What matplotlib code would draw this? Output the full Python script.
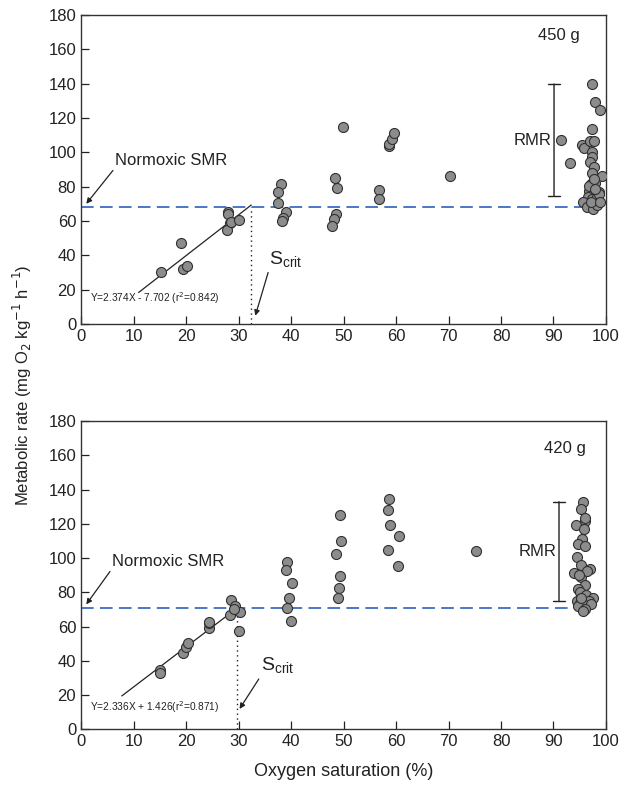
import numpy as np
import matplotlib
matplotlib.use('Agg')
import matplotlib.pyplot as plt

plt.rcParams['font.family'] = ['Liberation Sans', 'DejaVu Sans']

# 450 g fish - oxygen saturation (%) and metabolic rate
sat450 = [15.3, 19.0, 19.4, 20.1, 28.0, 28.0, 28.3, 27.8, 28.5, 30.0,
          38.0, 37.5, 37.6, 39.1, 38.4, 38.2,
          48.3, 48.7, 48.6, 48.2, 47.8, 49.9,
          56.8, 56.8, 58.6, 58.7, 59.2, 59.6, 70.3, 91.4, 93.1,
          97.3, 98.0, 98.9, 97.4, 95.5, 95.8, 96.9, 97.8, 97.3, 97.4,
          96.9, 97.7, 97.4, 99.2, 97.1, 98.0, 96.7, 98.7, 96.5, 97.4,
          98.3, 95.6, 96.3, 97.5, 98.3, 98.7, 96.7, 98.0, 97.2, 98.8, 97.7]
mr450 = [30.4, 47.1, 32.0, 33.9, 65.3, 64.0, 58.8, 54.7, 59.5, 60.7,
         81.8, 76.6, 70.2, 65.5, 61.7, 59.7,
         85.1, 79.3, 63.8, 60.9, 57.0, 115.0,
         78.1, 72.9, 103.7, 104.7, 108.0, 111.5, 86.1, 107.0, 93.5,
         139.8, 129.1, 124.7, 113.8, 104.3, 102.6, 106.3, 106.5, 100.4, 97.1,
         94.2, 91.5, 87.8, 86.1, 81.8, 82.4, 77.6, 76.6, 73.7, 72.7,
         73.7, 70.8, 68.4, 66.9, 69.4, 75.6, 80.5, 78.5, 70.8, 70.8, 84.3]

# 420 g fish
sat420 = [15.0, 15.0, 19.4, 20.0, 20.3, 24.3, 24.4, 24.4, 28.5, 29.4,
          28.4, 30.2, 29.2, 30.0,
          39.3, 39.1, 40.1, 39.7, 39.2, 40.0,
          49.4, 49.6, 48.5, 49.4, 49.2, 49.0,
          58.7, 58.4, 58.9, 60.5, 58.4, 60.3, 75.3,
          95.7, 95.3, 96.0, 94.3, 95.9, 95.5, 94.7, 96.0, 94.5, 95.2,
          97.0, 93.9, 95.3, 96.0, 94.7, 95.0, 96.1, 97.5, 94.5, 96.7,
          95.0, 95.7, 97.1, 94.7, 96.0, 95.3, 96.3, 96.0, 94.8, 95.7]
mr420 = [35.0, 33.0, 44.6, 48.3, 50.4, 59.1, 62.0, 63.0, 75.4, 72.1,
         66.9, 68.6, 70.1, 57.6,
         97.6, 93.1, 85.2, 76.7, 71.1, 63.4,
         125.2, 110.0, 102.2, 89.3, 82.3, 76.9,
         134.3, 127.9, 119.2, 112.9, 104.5, 95.3, 104.0,
         132.9, 128.5, 121.4, 119.4, 117.1, 111.3, 108.4, 106.9, 100.5, 96.2,
         93.9, 91.4, 88.9, 84.3, 81.7, 80.4, 78.5, 76.5, 75.0, 75.0,
         74.0, 73.0, 73.4, 72.1, 70.1, 76.9, 92.3, 123.3, 90.4, 69.2]

# regression (slope, intercept), normoxic SMR, Scrit, RMR range
slope450, icpt450 = 2.374, -7.702
smr450 = 68.3
scrit450 = 32.4
rmr450 = (74.3, 139.8)

slope420, icpt420 = 2.336, 1.426
smr420 = 71.1
scrit420 = 29.7
rmr420 = (75.0, 132.9)

fig = plt.figure(figsize=(6.3, 7.95), dpi=100)
ax1 = fig.add_axes([0.1286, 0.5925, 0.8333, 0.3887])
ax2 = fig.add_axes([0.1286, 0.0824, 0.8333, 0.388])

txtc = '#222222'

def panel(ax, sat, mr, slope, icpt, smr, scrit, rmr, rmr_x, line_x0, dash_end,
          label, label_xy, eq, eq_xy, smr_xy, smr_tip, s_xy, s_tip, rmr_txt_xy):
    ax.scatter(sat, mr, s=52, c='#8c8c8c', edgecolors='#303030', linewidths=0.8, zorder=3)
    xs = np.array([line_x0, scrit])
    ax.plot(xs, slope * xs + icpt, color='#222222', lw=0.9, zorder=2)
    ax.hlines(smr, 0, dash_end, colors='#3b6cc0', linestyles=(0, (7, 3.5)), lw=1.3, zorder=2)
    ax.vlines(scrit, 0, smr, colors='#222222', linestyles=(0, (1, 2.5)), lw=1.0)
    # RMR bar
    ax.annotate('', xy=(rmr_x, rmr[1]), xytext=(rmr_x, rmr[0]),
                arrowprops=dict(arrowstyle='|-|', color='#222222', lw=1.0, mutation_scale=4,
                                shrinkA=0, shrinkB=0))
    ax.text(rmr_txt_xy[0], rmr_txt_xy[1], 'RMR', ha='right', va='center', fontsize=12, color=txtc)
    ax.text(label_xy[0], label_xy[1], label, ha='center', va='center', fontsize=12, color=txtc)
    ax.text(eq_xy[0], eq_xy[1], eq, ha='left', va='center', fontsize=7.3, color=txtc)
    ax.annotate('Normoxic SMR', xy=smr_tip, xytext=smr_xy, fontsize=12, color=txtc,
                ha='left', va='center',
                arrowprops=dict(arrowstyle='-|>', color='#222222', lw=0.9, mutation_scale=8,
                                shrinkA=0, shrinkB=0, relpos=(0, 0)))
    ax.annotate(r'S$_{\mathregular{crit}}$', xy=s_tip, xytext=s_xy, fontsize=14, color=txtc,
                ha='left', va='center',
                arrowprops=dict(arrowstyle='-|>', color='#222222', lw=0.9, mutation_scale=8,
                                shrinkA=0, shrinkB=0, relpos=(0, 0)))

    ax.set_xlim(0, 100)
    ax.set_ylim(0, 180)
    ax.set_xticks(np.arange(0, 101, 10))
    ax.set_yticks(np.arange(0, 181, 20))
    ax.tick_params(direction='in', length=6, width=0.9, labelsize=12, colors='#222222',
                   top=False, right=False)
    for sp in ax.spines.values():
        sp.set_color('#333333')
        sp.set_linewidth(1.0)

panel(ax1, sat450, mr450, slope450, icpt450, smr450, scrit450, rmr450, 90.1, 11.0, 96.0,
      '450 g', (91.0, 168.0),
      'Y=2.374X - 7.702 (r$^2$=0.842)', (1.7, 15.1),
      (6.5, 95.4), (1.0, 70.0), (35.8, 37.5), (33.2, 4.8), (89.7, 107.0))
panel(ax2, sat420, mr420, slope420, icpt420, smr420, scrit420, rmr420, 91.05, 7.8, 94.7,
      '420 g', (92.2, 164.0),
      'Y=2.336X + 1.426(r$^2$=0.871)', (1.8, 12.8),
      (5.9, 98.2), (1.0, 73.0), (34.2, 37.0), (30.2, 12.0), (90.6, 104.0))

ax2.set_xlabel('Oxygen saturation (%)', fontsize=13, color=txtc, labelpad=10)
fig.text(0.035, 0.515, 'Metabolic rate (mg O$_2$ kg$^{-1}$ h$^{-1}$)', rotation=90,
         ha='center', va='center', fontsize=12, color=txtc)

plt.savefig('out.png', dpi=100)
